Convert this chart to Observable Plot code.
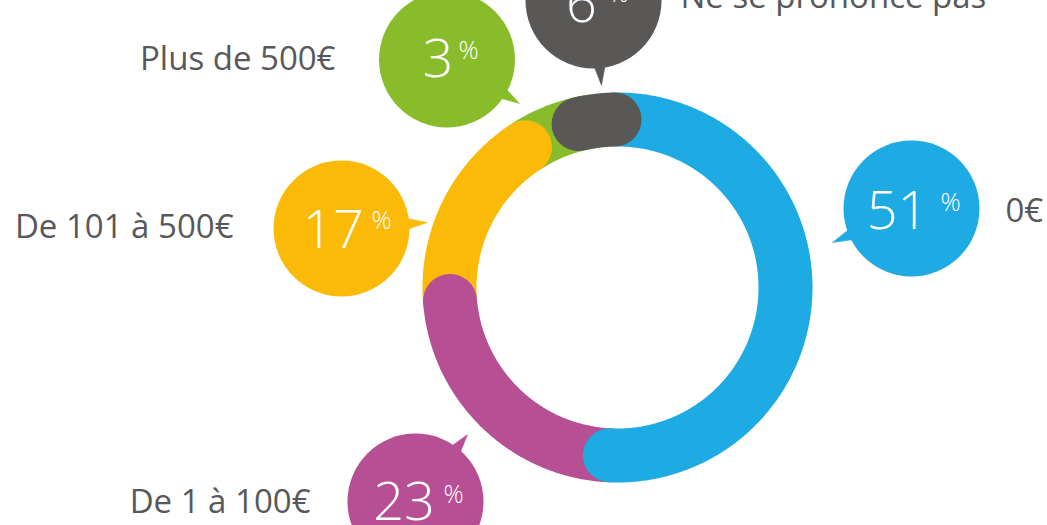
<!DOCTYPE html>
<html><head><meta charset="utf-8">
<script src="https://cdn.jsdelivr.net/npm/d3@7"></script>
<script src="https://cdn.jsdelivr.net/npm/@observablehq/plot@0.6"></script>
<style>html,body{margin:0;padding:0;background:#fff;overflow:hidden}</style>
</head><body><div id="chart"></div>
<script>
// ---- data ----
const categories = ["0€", "De 1 à 100€", "De 101 à 500€", "Plus de 500€", "Ne se prononce pas"];
const values = [51, 23, 17, 3, 6];
const colors = ["#1eaae2", "#b64f94", "#fbba08", "#88bc2b", "#5a5856"];
const pctSymbol = "%";

// ---- layout ----
const W = 1047, H = 525;
const cx = 617, cy = 287, ringR = 168, ringW = 54, startDeg = -1;
const bubbleX = [911, 415, 341, 446.5, 593];
const bubbleY = [208, 501, 228, 59, 0];
const bubbleR = 68;
const tipX = [832, 467, 427, 519, 601];
const tipY = [242, 434, 222, 103, 85];
const numDX = [-14, -11.5, -8.5, -9, -12];
const numDY = [20, 18, 19, 17, 21];
const pctDX = [29, 28, 30, 11.5, 15];
const pctDY = [2, 1, 0, -1, 1];
const labelX = [1005, 310, 233, 335, 680];
const labelY = [221, 512, 237, 69, 7];
const labelAnchor = ["start", "end", "end", "end", "start"];

const angle = d3.scaleLinear([0, 100], [startDeg, startDeg + 360]);
const cum = d3.cumsum(values);
const capDeg = (ringW / 2) / ringR * 180 / Math.PI;
const last = values.length - 1;

function arcPoints(a0, a1) {
  const n = Math.max(2, Math.ceil(Math.abs(a1 - a0) / 0.5) + 1);
  return d3.range(n).map(k => {
    const a = (a0 + (a1 - a0) * k / (n - 1)) * Math.PI / 180;
    return {x: cx + ringR * Math.sin(a), y: cy - ringR * Math.cos(a)};
  });
}
function segment(i) {
  let a0 = angle(cum[i] - values[i]);
  let a1 = angle(cum[i]);
  if (i === last) a0 += capDeg;           // top pill sits inside its share
  if (i === last - 1) a1 += capDeg * 1.5; // runs under the pill
  return arcPoints(a0, a1);
}
const drawOrder = [3, 2, 1, 0, 4];

function tail(i) {
  const th = Math.atan2(tipY[i] - bubbleY[i], tipX[i] - bubbleX[i]);
  const r = bubbleR - 3, h = 0.09;
  return [
    {x: bubbleX[i] + r * Math.cos(th - h), y: bubbleY[i] + r * Math.sin(th - h)},
    {x: tipX[i], y: tipY[i]},
    {x: bubbleX[i] + r * Math.cos(th + h), y: bubbleY[i] + r * Math.sin(th + h)}
  ];
}

const bubbles = categories.map((c, i) => ({
  cat: c, value: values[i], color: colors[i],
  x: bubbleX[i], y: bubbleY[i],
  nx: bubbleX[i] + numDX[i], ny: bubbleY[i] + numDY[i],
  px: bubbleX[i] + pctDX[i], py: bubbleY[i] + pctDY[i],
  lx: labelX[i], ly: labelY[i], anchor: labelAnchor[i]
}));

const font = "'Open Sans', 'Noto Sans', sans-serif";
const marks = [];
for (const i of drawOrder) {
  marks.push(Plot.line(segment(i), {x: "x", y: "y", stroke: colors[i], strokeWidth: ringW, strokeLinecap: "round", strokeLinejoin: "round"}));
}
categories.forEach((c, i) => {
  marks.push(Plot.line(tail(i), {x: "x", y: "y", fill: colors[i], stroke: colors[i], strokeWidth: 0.5}));
});
marks.push(Plot.dot(bubbles, {x: "x", y: "y", r: bubbleR, fill: "color", stroke: null}));
marks.push(Plot.text(bubbles, {x: "nx", y: "ny", text: d => String(d.value), fill: "white", fontSize: 54, fontWeight: 300, fontFamily: font, textAnchor: "middle", lineAnchor: "bottom"}));
marks.push(Plot.text(bubbles, {x: "px", y: "py", text: d => pctSymbol, fill: "white", fontSize: 25, fontWeight: 300, fontFamily: font, textAnchor: "start", lineAnchor: "bottom"}));
for (const anchor of ["start", "end"]) {
  marks.push(Plot.text(bubbles.filter(d => d.anchor === anchor), {x: "lx", y: "ly", text: "cat", fill: "#58585a", fontSize: 33, fontFamily: font, textAnchor: anchor, lineAnchor: "bottom"}));
}

const chart = Plot.plot({
  width: W, height: H, margin: 0,
  x: {domain: [0, W], range: [0, W], axis: null},
  y: {domain: [0, H], range: [0, H], axis: null},
  color: {type: "identity"},
  style: {background: "white", overflow: "hidden"},
  marks
});
document.getElementById("chart").appendChild(chart);
</script>
</body></html>
